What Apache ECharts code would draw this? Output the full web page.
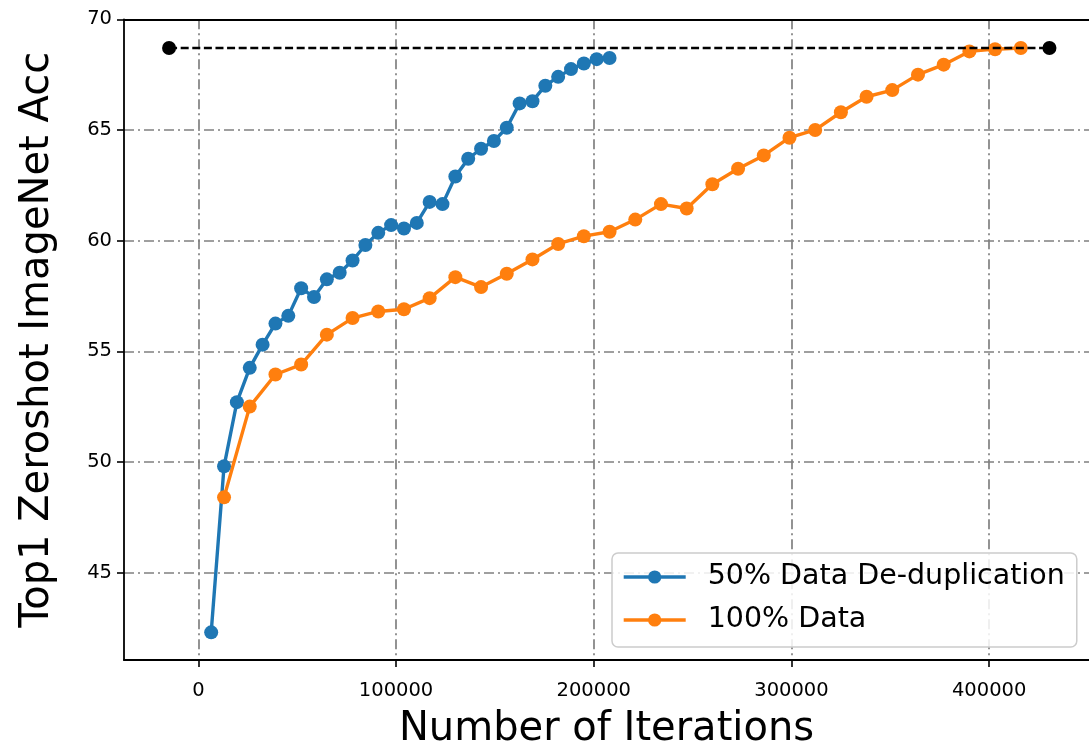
<!DOCTYPE html>
<html>
<head>
<meta charset="utf-8">
<title>Top1 Zeroshot ImageNet Acc</title>
<script src="https://cdn.jsdelivr.net/npm/echarts@6/dist/echarts.min.js"></script>
<style>
  html, body { margin: 0; padding: 0; background: #fff; }
  #chart { width: 1089px; height: 746px; }
</style>
</head>
<body>
<div id="chart"></div>
<script>
// 50% de-duplicated data run
const dedupIters = [6500, 13000, 19500, 26000, 32500, 39000, 45500, 52000, 58500, 65000, 71500, 78000, 84500, 91000, 97500, 104000,
  110500, 117000, 123500, 130000, 136500, 143000, 149500, 156000, 162500, 169000, 175500, 182000, 188500, 195000, 201500, 208000]
const dedupAcc = [42.3, 49.8, 52.7, 54.25, 55.3, 56.25, 56.6, 57.85, 57.45, 58.25, 58.55, 59.1, 59.8, 60.35, 60.7, 60.55,
  60.8, 61.75, 61.65, 62.9, 63.7, 64.15, 64.5, 65.1, 66.2, 66.3, 67.0, 67.4, 67.75, 68.0, 68.2, 68.25]

// full data run
const fullIters = [13000, 26000, 39000, 52000, 65000, 78000, 91000, 104000, 117000, 130000, 143000, 156000, 169000, 182000, 195000, 208000,
  221000, 234000, 247000, 260000, 273000, 286000, 299000, 312000, 325000, 338000, 351000, 364000, 377000, 390000, 403000, 416000]
const fullAcc = [48.4, 52.5, 53.95, 54.4, 55.75, 56.5, 56.8, 56.9, 57.4, 58.35, 57.9, 58.5, 59.15, 59.85, 60.2, 60.4,
  60.95, 61.65, 61.45, 62.55, 63.25, 63.85, 64.65, 65.0, 65.8, 66.5, 66.8, 67.5, 67.95, 68.55, 68.65, 68.7]

// reference (final accuracy) line
const refIters = [-14800, 430500]
const refAcc = [68.7, 68.7]

// axes
const xTicks = [0, 100000, 200000, 300000, 400000]
const yTicks = [45, 50, 55, 60, 65, 70]

const FONT = 'DejaVu Sans'
const gridStyle = { color: '#808080', width: 1.7, type: [10, 4, 2, 4] }
const spine = { color: '#000', width: 1.8 }
const tickStyle = { color: '#000', width: 1.6 }

const zip = (xs, ys) => xs.map((x, i) => [x, ys[i]])

// 线条 + 圆点
const lineSeries = (name, data, color) => ({
  name,
  type: 'line',
  data,
  symbol: 'circle',
  symbolSize: 14,
  showAllSymbol: true,
  color,
  lineStyle: { width: 3.4, color },
  itemStyle: { color },
  z: 3
})

const chart = echarts.init(document.getElementById('chart'))

const option = {
  animation: false,
  backgroundColor: '#fff',
  textStyle: { fontFamily: FONT },
  grid: { left: 124, top: 19.3, right: 0, bottom: 86, outerBoundsMode: 'none', containLabel: false },
  legend: {
    orient: 'vertical',
    left: 612,
    top: 553,
    data: ['50% Data De-duplication', '100% Data'],
    itemWidth: 62,
    itemHeight: 16.5,
    itemGap: 14,
    padding: [9.5, 12, 12.5, 10],
    backgroundColor: 'rgba(255,255,255,0.85)',
    borderColor: '#cccccc',
    borderWidth: 1.5,
    borderRadius: 6,
    lineStyle: { width: 3.4 },
    textStyle: { fontFamily: FONT, fontSize: 28.5, color: '#000', padding: [0, 0, 0, 17] }
  },
  xAxis: [
    {
      type: 'value',
      min: -37600,
      max: 450500,
      name: 'Number of Iterations',
      nameLocation: 'middle',
      nameGap: 50,
      nameMoveOverlap: false,
      nameTextStyle: { fontFamily: FONT, fontSize: 40, color: '#000', verticalAlign: 'top' },
      axisLine: { onZero: false, lineStyle: spine },
      axisTick: { show: true, length: 7, lineStyle: tickStyle, customValues: xTicks },
      axisLabel: { fontFamily: FONT, fontSize: 19.5, color: '#000', margin: 21, customValues: xTicks, formatter: v => String(v) },
      splitLine: { show: true, lineStyle: gridStyle }
    },
    {
      // top spine
      type: 'value',
      position: 'top',
      min: -37600,
      max: 450500,
      axisLine: { show: true, onZero: false, lineStyle: spine },
      axisTick: { show: false },
      axisLabel: { show: false },
      splitLine: { show: false }
    }
  ],
  yAxis: {
    type: 'value',
    min: 41.05,
    max: 70,
    name: 'Top1 Zeroshot ImageNet Acc',
    nameLocation: 'middle',
    nameGap: 66,
    nameMoveOverlap: false,
    nameTextStyle: { fontFamily: FONT, fontSize: 40, color: '#000' },
    axisLine: { show: true, onZero: false, lineStyle: spine },
    axisTick: { show: true, length: 7, lineStyle: tickStyle, customValues: yTicks },
    axisLabel: { fontFamily: FONT, fontSize: 19.5, color: '#000', margin: 12, customValues: yTicks },
    splitLine: { show: true, lineStyle: gridStyle }
  },
  series: [
    lineSeries('50% Data De-duplication', zip(dedupIters, dedupAcc), '#1f77b4'),
    lineSeries('100% Data', zip(fullIters, fullAcc), '#ff7f0e'),
    {
      name: 'ref',
      type: 'line',
      data: zip(refIters, refAcc),
      symbol: 'circle',
      symbolSize: 14,
      color: '#000',
      lineStyle: { width: 2.4, color: '#000', type: [8, 3.6] },
      itemStyle: { color: '#000' },
      z: 4
    }
  ]
}

chart.setOption(option)
</script>
</body>
</html>
